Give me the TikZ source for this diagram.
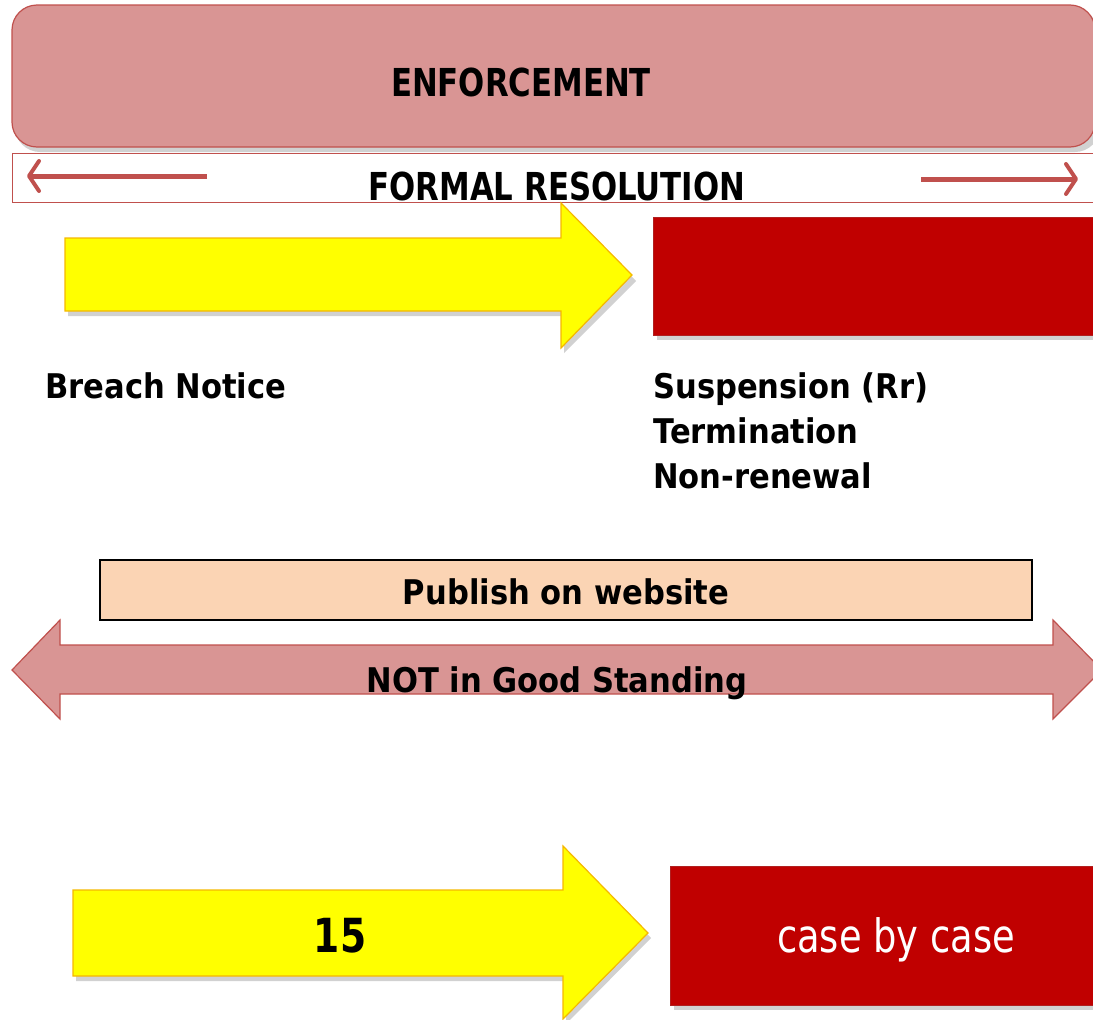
\documentclass[tikz,border=0pt]{standalone}
\usepackage{fontspec}
\usetikzlibrary{arrows.meta}
% narrow face for capitals and figures, wider one for mixed-case text
\newfontfamily\tahcaps[FakeStretch=0.80]{DejaVu Sans}
\newfontfamily\tahtext[FakeStretch=0.90]{DejaVu Sans}
\definecolor{pinkfill}{HTML}{D99594}
\definecolor{pinkline}{HTML}{C0504D}
\definecolor{darkred}{HTML}{C00000}
\definecolor{redline}{HTML}{B02020}
\definecolor{gold}{HTML}{F5B800}
\definecolor{yel}{HTML}{FFFF00}
\definecolor{peach}{HTML}{FBD4B4}
\tikzset{
  shade/.style={fill=black, opacity=0.18, draw=none},
  pinkshape/.style={fill=pinkfill, draw=pinkline, line width=1.2pt},
  redshape/.style={fill=darkred, draw=redline, line width=0.8pt},
  yellowarrow/.style={fill=yel, draw=gold, line width=1.2pt, line join=miter},
  lbl/.style={inner sep=0pt, anchor=base, text=black},
  bigcaps/.style={font=\tahcaps\bfseries\fontsize{38.5}{44}\selectfont},
  body/.style={font=\tahtext\bfseries\fontsize{34}{40}\selectfont},
  redarrow/.style={draw=pinkline, line width=5pt,
    -{Straight Barb[length=10pt, width=30pt, line width=4pt, round]}}
}
\begin{document}
\begin{tikzpicture}[x=1pt, y=-1pt]
\useasboundingbox (0,0) rectangle (1093,1020);
\clip (0,0) rectangle (1093,1020);

% ENFORCEMENT banner
\fill[shade, rounded corners=25pt] (15,10) rectangle (1100,152);
\draw[pinkshape, rounded corners=25pt] (12,5) rectangle (1095,147);
\node[lbl, bigcaps] (enf) at (521,96) {ENFORCEMENT};

% FORMAL RESOLUTION band
\draw[pinkline, line width=1pt, fill=white] (12,153) rectangle (1110,202);
\node[lbl, bigcaps] (formal) at (557,200) {FORMAL RESOLUTION};
\coordinate (la0) at (207,176);
\coordinate (la1) at (27,176);
\coordinate (ra0) at (921,179);
\coordinate (ra1) at (1078,179);
\draw[redarrow] (la0) -- (la1);
\draw[redarrow] (ra0) -- (ra1);

% upper yellow arrow and red block
\fill[shade] (68,243) -- (564,243) -- (564,208) -- (636,281) -- (564,353) -- (564,316) -- (68,316) -- cycle;
\draw[yellowarrow] (65,238) -- (561,238) -- (561,203) -- (632,275) -- (561,348) -- (561,311) -- (65,311) -- cycle;
\fill[shade] (657,222) rectangle (1110,340);
\draw[redshape] (653,217) rectangle (1110,335);

\node[lbl, anchor=base west, body] (breach) at (45,398) {Breach Notice};
\node[lbl, anchor=base west, body] (susp) at (653,398) {Suspension (Rr)};
\node[lbl, anchor=base west, body] (term) at (653,443) {Termination};
\node[lbl, anchor=base west, body] (nonren) at (653,488) {Non-renewal};

% publication bar
\draw[fill=peach, draw=black, line width=1.3pt] (100,560) rectangle (1032,620);
\node[lbl, body] (publish) at (566,604) {Publish on website};

% standing double arrow
\draw[pinkshape, line join=miter] (12,670) -- (60,620) -- (60,645) -- (1053,645) -- (1053,620) -- (1102,670) -- (1053,719) -- (1053,694) -- (60,694) -- (60,719) -- cycle;
\node[lbl, body] (standing) at (557,692) {NOT in Good Standing};

% lower yellow arrow and red block
\fill[shade] (76,895) -- (566,895) -- (566,851) -- (651,938) -- (566,1024) -- (566,981) -- (76,981) -- cycle;
\draw[yellowarrow] (73,890) -- (563,890) -- (563,846) -- (648,933) -- (563,1019) -- (563,976) -- (73,976) -- cycle;
\node[lbl, font=\tahcaps\bfseries\fontsize{47}{52}\selectfont] (fifteen) at (340,952) {15};
\fill[shade] (674,871) rectangle (1110,1010);
\draw[redshape] (670,866) rectangle (1110,1005);
\node[lbl, text=white, font=\tahcaps\fontsize{46}{50}\selectfont] (cbc) at (896,952) {case by case};
\end{tikzpicture}
\end{document}
